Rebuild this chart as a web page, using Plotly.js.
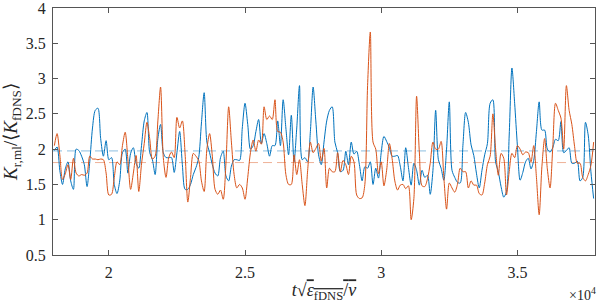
<!DOCTYPE html>
<html>
<head>
<meta charset="utf-8">
<script src="https://cdn.plot.ly/plotly-3.0.1.min.js"></script>
<style>
  html, body { margin: 0; padding: 0; background: #fff; }
  #chart { width: 598px; height: 305px; }
</style>
</head>
<body>
<div id="chart"></div>
<script>
// time samples (t * sqrt(eps/nu))
const time = [
18000,18100,18200,18300,18400,18500,18600,18700,18800,18900,
19000,19100,19200,19300,19400,19500,19600,19700,19800,19900,
20000,20100,20200,20300,20400,20500,20600,20700,20800,20900,
21000,21100,21200,21300,21400,21500,21600,21700,21800,21900,
22000,22100,22200,22300,22400,22500,22600,22700,22800,22900,
23000,23100,23200,23300,23400,23500,23600,23700,23800,23900,
24000,24100,24200,24300,24400,24500,24600,24700,24800,24900,
25000,25100,25200,25300,25400,25500,25600,25700,25800,25900,
26000,26100,26200,26300,26400,26500,26600,26700,26800,26900,
27000,27100,27200,27300,27400,27500,27600,27700,27800,27900,
28000,28100,28200,28300,28400,28500,28600,28700,28800,28900,
29000,29100,29200,29300,29400,29500,29600,29700,29800,29900,
30000,30100,30200,30300,30400,30500,30600,30700,30800,30900,
31000,31100,31200,31300,31400,31500,31600,31700,31800,31900,
32000,32100,32200,32300,32400,32500,32600,32700,32800,32900,
33000,33100,33200,33300,33400,33500,33600,33700,33800,33900,
34000,34100,34200,34300,34400,34500,34600,34700,34800,34900,
35000,35100,35200,35300,35400,35500,35600,35700,35800,35900,
36000,36100,36200,36300,36400,36500,36600,36700,36800,36900,
37000,37100,37200,37300,37400,37500,37600,37700,37800
];

// blue series
const kBlue = [
1.98,2.03,1.70,1.50,1.72,1.82,1.55,1.43,2.00,1.98,
1.90,1.78,1.47,1.82,2.30,2.55,2.58,2.15,1.90,2.12,
1.85,1.88,1.50,1.37,1.55,1.95,2.00,1.66,1.94,2.02,
1.80,1.73,2.05,2.40,2.52,1.95,1.85,1.64,2.15,2.35,
1.95,
1.88,1.88,1.88,1.67,1.95,2.25,1.78,1.43,1.43,1.50,
1.64,1.74,1.88,2.37,2.80,2.10,1.95,1.78,1.66,1.62,
1.88,1.97,1.62,1.55,1.76,1.85,1.85,1.84,2.30,2.65,
2.35,2.00,2.05,2.25,2.42,2.08,2.22,2.08,1.90,2.05,
2.05,
2.40,2.05,2.70,2.30,1.92,2.48,1.82,2.30,2.90,1.85,
1.88,1.82,2.25,2.88,2.40,1.92,1.78,2.10,2.40,2.55,
2.60,2.10,1.95,1.68,1.70,1.97,1.78,2.10,1.93,1.97,
1.78,1.55,1.75,1.73,1.82,1.50,1.73,1.59,1.95,2.18,
2.11,2.02,1.90,1.90,1.91,1.76,1.55,2.02,1.74,1.49,
1.80,1.70,1.49,1.70,1.60,1.63,1.36,1.70,2.55,1.85,
1.73,1.56,2.00,2.67,1.70,1.60,1.53,1.52,2.05,2.52,
2.38,2.06,1.91,1.65,1.45,1.70,1.92,2.08,2.65,2.70,
1.82,
1.68,1.47,1.32,1.40,2.20,3.15,2.65,2.05,1.56,1.67,
1.82,1.87,1.72,1.84,2.25,2.67,2.27,2.27,2.00,1.96,
2.02,2.14,2.12,2.39,1.95,1.98,2.02,1.80,1.80,1.83,
1.55,1.60,2.38,2.20,1.68,1.30
];

// orange series
const kOrange = [
2.05,2.22,1.92,1.57,1.65,1.78,1.57,1.87,1.66,1.62,
1.64,1.63,1.66,1.90,1.86,1.86,1.85,1.86,1.85,1.66,
1.35,1.36,1.60,1.82,1.78,2.05,2.24,1.85,1.43,1.66,
1.91,1.40,1.79,2.08,2.38,2.15,1.86,1.90,2.40,2.88,
1.88,
1.60,1.88,1.96,1.88,2.45,2.30,2.40,1.93,1.25,1.60,
1.94,1.90,1.84,1.55,1.40,2.00,2.22,1.90,1.43,1.36,
1.42,1.29,1.80,2.60,2.10,1.64,1.45,1.50,1.45,1.29,
1.60,1.95,2.13,1.97,2.13,2.07,2.60,2.42,2.47,2.42,
2.70,
2.25,2.24,2.10,1.64,1.50,1.50,1.92,1.64,1.85,1.50,
1.20,1.70,2.10,1.95,2.01,2.08,1.83,2.01,1.45,1.73,
1.68,1.68,1.95,1.68,1.84,1.78,1.64,1.90,1.82,1.35,
1.30,1.31,1.50,2.90,3.66,2.10,2.00,1.65,1.82,1.48,
1.70,2.08,1.87,1.55,1.42,1.49,1.50,1.44,1.48,1.00,
1.30,2.75,1.96,1.48,1.47,1.58,1.80,2.10,2.00,2.00,
2.11,1.60,1.15,1.52,1.45,1.39,1.50,1.73,1.68,1.68,
1.45,1.55,1.49,1.49,1.37,1.35,1.52,1.78,1.90,2.50,
2.00,
1.63,1.94,1.87,1.35,1.68,1.94,1.88,2.05,2.00,1.92,
1.96,1.95,1.82,2.05,1.60,1.07,1.75,2.15,1.72,1.45,
2.03,2.65,2.55,2.44,2.00,2.90,2.55,2.35,2.04,1.80,
1.80,1.60,1.55,1.64,1.77,2.10
];

const meanBlue = 1.975;
const meanOrange = 1.81;
const xRange = [17950, 37850];
const xTickVals = [20000, 25000, 30000, 35000];
const xTickText = ['2', '2.5', '3', '3.5'];
const yTickVals = [0.5, 1, 1.5, 2, 2.5, 3, 3.5, 4];
const yTickText = ['0.5', '1', '1.5', '2', '2.5', '3', '3.5', '4'];

const BLUE = '#0072BD';
const ORANGE = '#D95319';
const FONT = 'Liberation Serif';

const traces = [
  { x: xRange, y: [meanBlue, meanBlue], mode: 'lines', hoverinfo: 'skip',
    line: { color: 'rgba(0,114,189,0.45)', width: 1, dash: '9px,5px' } },
  { x: xRange, y: [meanOrange, meanOrange], mode: 'lines', hoverinfo: 'skip',
    line: { color: 'rgba(217,83,25,0.45)', width: 1, dash: '9px,5px' } },
  { x: time, y: kBlue, mode: 'lines', line: { color: BLUE, width: 1, shape: 'spline', smoothing: 0.8 } },
  { x: time, y: kOrange, mode: 'lines', line: { color: ORANGE, width: 1, shape: 'spline', smoothing: 0.8 } }
];

const axisCommon = {
  showgrid: false, zeroline: false,
  showline: true, linecolor: '#555', linewidth: 1, mirror: 'allticks',
  ticks: 'inside', ticklen: 5, tickcolor: '#555', tickwidth: 1,
  ticklabeloverflow: 'allow',
  tickfont: { family: FONT, size: 16, color: '#262626' }
};

const layout = {
  width: 598, height: 305,
  margin: { l: 53, r: 3, t: 8, b: 50 },
  paper_bgcolor: '#fff', plot_bgcolor: '#fff',
  font: { family: FONT, color: '#262626' },
  showlegend: false,
  xaxis: Object.assign({}, axisCommon, {
    range: xRange, tickmode: 'array', tickvals: xTickVals, ticktext: xTickText,
    ticklabelstandoff: 3,
    title: { text: '<i>t</i>\u221A<span style="text-decoration:overline"><i>\u03B5</i><sub>fDNS</sub>/<i>\u03BD</i></span>',
             font: { family: FONT, size: 18, color: '#262626' }, standoff: 3 }
  }),
  yaxis: Object.assign({}, axisCommon, {
    range: [0.5, 4], tickmode: 'array', tickvals: yTickVals, ticktext: yTickText,
    ticklabelstandoff: 3,
    title: { text: '<i>K</i><sub>r,ml</sub>/\u27E8<i>K</i><sub>fDNS</sub>\u27E9',
             font: { family: FONT, size: 19, color: '#262626' }, standoff: 5 }
  }),
  annotations: [
    { xref: 'paper', yref: 'paper', x: 1, y: 0, xanchor: 'right', yanchor: 'top',
      yshift: -28, xshift: 3, showarrow: false,
      text: '\u00D710<sup>4</sup>', font: { family: FONT, size: 14, color: '#262626' } }
  ]
};

Plotly.newPlot('chart', traces, layout, { staticPlot: true, displayModeBar: false });
</script>
</body>
</html>
